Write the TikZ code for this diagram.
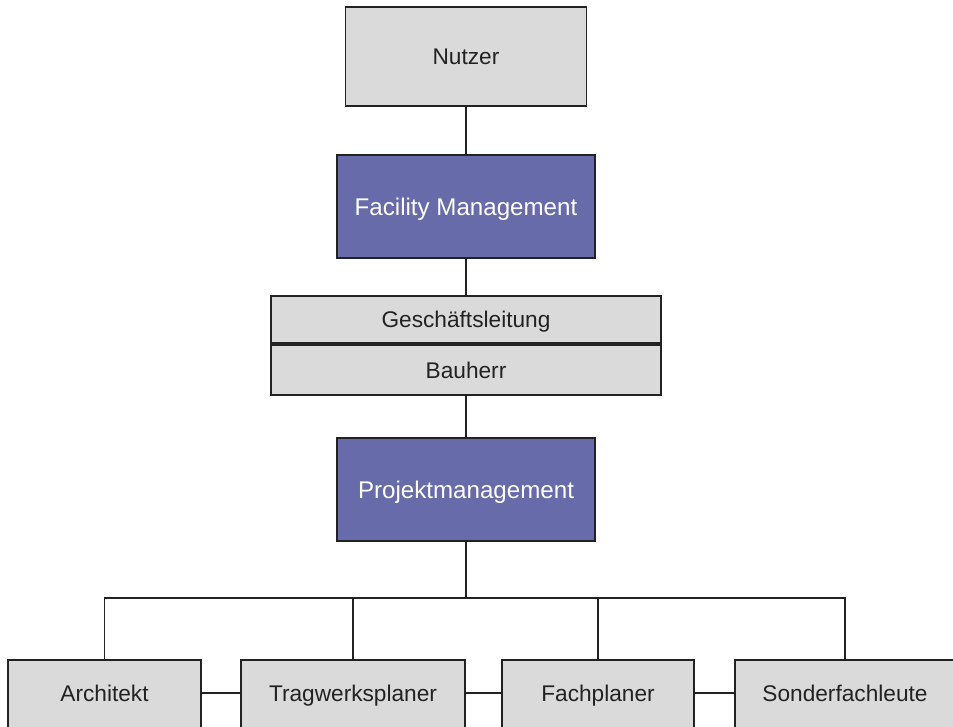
\documentclass[tikz,border=0pt]{standalone}
\usepackage{fontspec}
\setmainfont{Liberation Sans}
\usepackage{tikz}
\usetikzlibrary{calc}
\usepackage{xcolor}
\definecolor{boxgray}{RGB}{218,218,218}
\definecolor{fmblue}{RGB}{103,107,170}
\definecolor{ink}{RGB}{34,34,34}
\tikzset{
  graybox/.style={draw=ink,fill=boxgray,text=ink,line width=1.4pt,inner sep=0pt,
    font=\fontsize{17}{20}\selectfont,text height=12.2pt,text depth=0pt},
  bluebox/.style={draw=ink,fill=fmblue,text=white,line width=1.4pt,inner sep=0pt,
    font=\fontsize{18.1}{21}\selectfont,text height=13pt,text depth=0pt},
  link/.style={draw=ink,line width=1.4pt}
}

\begin{document}
\begin{tikzpicture}[x=0.75pt,y=-0.75pt]
  \useasboundingbox (0,0) rectangle (953,727);
  \clip (0,0) rectangle (953,727);
  \node[graybox,minimum width=241*0.75pt,minimum height=99*0.75pt] (nutzer) at (466,56.5){Nutzer};
  \node[bluebox,minimum width=258*0.75pt,minimum height=103*0.75pt,text depth=-2.5pt] (fm) at (466,206.5){Facility Management};
  \node[graybox,minimum width=390*0.75pt,minimum height=47*0.75pt,text depth=-4pt] (gl) at (466,319.5){Geschäftsleitung};
  \node[graybox,minimum width=390*0.75pt,minimum height=50*0.75pt,anchor=north] (bh) at (gl.south){Bauherr};
  \node[bluebox,minimum width=258*0.75pt,minimum height=103*0.75pt,text depth=-2.5pt] (pm) at (466,489.5){Projektmanagement};
  \coordinate (bus) at (466,598);
  % untere Reihe
  \foreach \x/\w/\name/\txt in {104.5/193/arch/Architekt,353/224/trag/Tragwerksplaner,598/192/fach/Fachplaner,845/220/sonder/Sonderfachleute}{
    \node[graybox,minimum width=\w*0.75pt,minimum height=72*0.75pt,anchor=north,text depth=4.5pt] (\name) at (\x,659){\txt};
  }
  \draw[link] (nutzer.south) -- (fm.north);
  \draw[link] (fm.south) -- (gl.north);
  \draw[link] (bh.south) -- (pm.north);
  \draw[link] (pm.south) -- (bus);
  \draw[link] (arch.north) |- (sonder.north |- bus) -- (sonder.north);
  \draw[link] (trag.north) -- (trag.north |- bus);
  \draw[link] (fach.north) -- (fach.north |- bus);
  \foreach \a/\b in {arch/trag,trag/fach,fach/sonder}{
    \draw[link] ($(\a.north east)!0.46!(\a.south east)$) -- ($(\b.north west)!0.46!(\b.south west)$);
  }
\end{tikzpicture}
\end{document}
